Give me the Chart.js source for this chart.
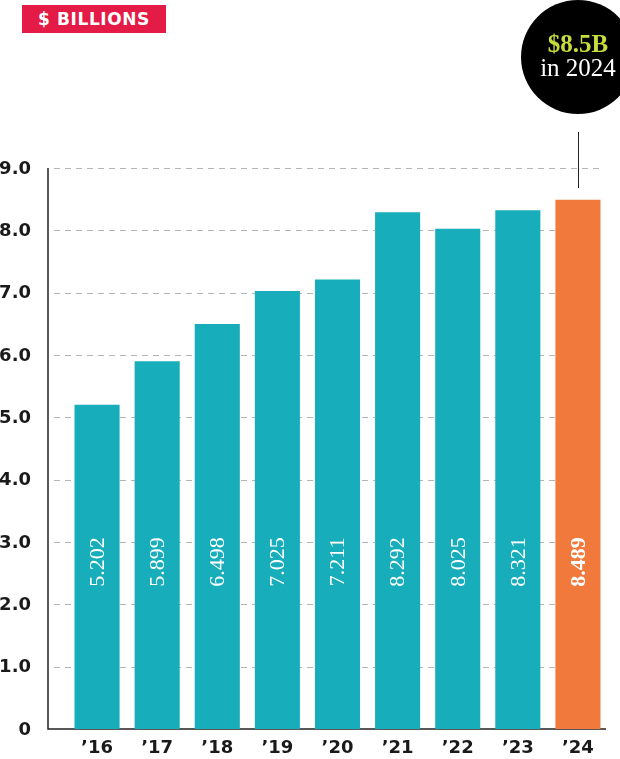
<!DOCTYPE html>
<html>
<head>
<meta charset="utf-8">
<script src="https://cdn.jsdelivr.net/npm/chart.js@4"></script>
<style>
  html, body { margin: 0; padding: 0; background: #fff; }
  #wrap { position: relative; width: 620px; height: 759px; overflow: hidden; }
  #title {
    position: absolute; left: 22px; top: 5px; width: 144px; height: 28px;
    background: #e31b46; color: #fff; font: bold 17px 'DejaVu Sans', sans-serif;
    letter-spacing: 0.6px; line-height: 29px; text-align: center;
  }
  #badge {
    position: absolute; left: 521px; top: 0px; width: 114px; height: 114px; border-radius: 50%;
    background: #000; color: #fff; text-align: center; font-family: 'Liberation Serif', 'DejaVu Serif', serif;
  }
  #badge .big { position: absolute; left: 0; right: 0; top: 29px; font-size: 25px; font-weight: bold; color: #c8dc3c; line-height: 30px; }
  #badge .small { position: absolute; left: 0; right: 0; top: 53px; font-size: 25px; line-height: 30px; }
  canvas { position: absolute; left: 0; top: 0; }
</style>
</head>
<body>
<div id="wrap">
  <canvas id="chart" width="620" height="759"></canvas>
  <div id="title">$ BILLIONS</div>
  <div id="badge"><div class="big">$8.5B</div><div class="small">in 2024</div></div>
</div>
<script>
// السنوات والقيم بالمليار دولار
const years = ['’16', '’17', '’18', '’19', '’20', '’21', '’22', '’23', '’24'];
const values = [5.202, 5.899, 6.498, 7.025, 7.211, 8.292, 8.025, 8.321, 8.489];
const valueLabels = ['5.202', '5.899', '6.498', '7.025', '7.211', '8.292', '8.025', '8.321', '8.489'];
const yTicks = [0, 1, 2, 3, 4, 5, 6, 7, 8, 9];
const yTickLabels = ['0', '1.0', '2.0', '3.0', '4.0', '5.0', '6.0', '7.0', '8.0', '9.0'];

const teal = '#17adbb';
const orange = '#f1793b';
const barColors = values.map((v, i) => i === values.length - 1 ? orange : teal);

// محاور وخطوط الشبكة مرسومة يدويا
const axisPlugin = {
    id: 'axisPlugin',
    beforeDatasetsDraw(chart) {
        const ctx = chart.ctx;
        const y = chart.scales.y;
        const x = chart.scales.x;
        const left = 48;
        const right = 602;
        ctx.save();
        ctx.strokeStyle = '#b5b5b5';
        ctx.lineWidth = 1;
        ctx.setLineDash([6, 5]);
        yTicks.forEach(t => {
            if (t === 0) return;
            const py = Math.round(y.getPixelForValue(t)) + 0.5;
            ctx.beginPath();
            ctx.moveTo(left + 6, py);
            ctx.lineTo(right, py);
            ctx.stroke();
        });
        ctx.setLineDash([]);
        ctx.strokeStyle = '#222';
        ctx.lineWidth = 1.5;
        ctx.beginPath();
        ctx.moveTo(left, y.getPixelForValue(9));
        ctx.lineTo(left, y.getPixelForValue(0));
        ctx.lineTo(right + 4, y.getPixelForValue(0));
        ctx.stroke();
        // خط المؤشر الرأسي
        ctx.lineWidth = 1;
        const lastX = Math.round(x.getPixelForValue(years.length - 1)) + 0.5;
        ctx.beginPath();
        ctx.moveTo(lastX, 132);
        ctx.lineTo(lastX, 188);
        ctx.stroke();
        // تسميات المحور الصادي
        ctx.fillStyle = '#1a1a1a';
        ctx.font = 'bold 18px "DejaVu Sans", sans-serif';
        ctx.textAlign = 'right';
        ctx.textBaseline = 'middle';
        yTicks.forEach((t, i) => {
            ctx.fillText(yTickLabels[i], 31, y.getPixelForValue(t) + 1);
        });
        // تسميات المحور السيني
        ctx.textAlign = 'center';
        years.forEach((lab, i) => {
            ctx.fillText(lab, x.getPixelForValue(i), 748);
        });
        ctx.restore();
    },
    afterDatasetsDraw(chart) {
        const ctx = chart.ctx;
        const y = chart.scales.y;
        const meta = chart.getDatasetMeta(0);
        ctx.save();
        ctx.fillStyle = '#fff';
        ctx.textAlign = 'center';
        ctx.textBaseline = 'middle';
        meta.data.forEach((bar, i) => {
            const last = i === values.length - 1;
            ctx.font = (last ? 'bold ' : '') + '22px "Liberation Serif", "DejaVu Serif", serif';
            ctx.save();
            ctx.translate(bar.x + 1, y.getPixelForValue(2.68));
            ctx.rotate(-Math.PI / 2);
            ctx.fillText(valueLabels[i], 0, 0);
            ctx.restore();
        });
        ctx.restore();
    }
};

new Chart(document.getElementById('chart'), {
    type: 'bar',
    data: {
        labels: years,
        datasets: [{
            data: values,
            backgroundColor: barColors,
            borderWidth: 0,
            barPercentage: 0.75,
            categoryPercentage: 1
        }]
    },
    options: {
        responsive: false,
        animation: false,
        layout: { padding: { left: 67, right: 12, top: 168, bottom: 30 } },
        plugins: { legend: { display: false }, tooltip: { enabled: false } },
        scales: {
            x: { display: false },
            y: { display: false, min: 0, max: 9 }
        }
    },
    plugins: [axisPlugin]
});
</script>
</body>
</html>
